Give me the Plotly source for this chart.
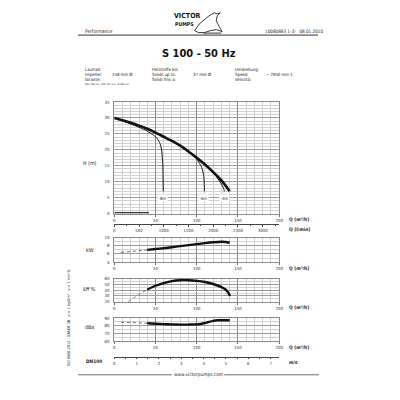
import plotly.graph_objects as go

W, HGT = 400, 400
def px(x): return x / W
def py(y): return 1 - y / HGT

# ---------------- data ----------------
q_head = [0, 10, 20, 30, 40, 50, 60, 70, 80, 90, 100, 110, 120, 130, 140]
head = [30, 29.3, 28.5, 27.6, 26.6, 25.4, 24.1, 22.8, 21.3, 19.5, 17.5, 15.4, 13.0, 10.4, 7.0]

q_b8 = [0, 10, 20, 30, 40, 48, 52, 55, 57, 58, 58.7, 59.1, 59.3, 59.4]
h_b8 = [30, 29.1, 28.1, 27.1, 25.9, 24.5, 23.6, 22.3, 20.6, 18.5, 16, 13, 10, 7]
q_b6 = [90, 95, 100, 103, 105.5, 107.3, 108.3, 108.9, 109.2, 109.3]
h_b6 = [19.5, 18.4, 17.1, 16.0, 14.8, 13.4, 12.0, 10.5, 8.7, 7]
q_b4 = [110, 115, 120, 125, 128.5, 131, 132.6, 133.5]
h_b4 = [15.4, 14.2, 12.8, 11.2, 9.9, 8.8, 7.9, 7.0]
q_npsh = [0, 42]
npsh = [0.25, 0.25]
branch_labels = ["-8m", "-6m", "-4m"]
branch_label_q = [59, 108.5, 134]

q_kw = [8, 20, 30, 40, 50, 60, 70, 80, 90, 100, 110, 120, 130, 135, 140]
kw = [6.4, 6.6, 6.8, 7.0, 7.2, 7.4, 7.65, 7.9, 8.15, 8.4, 8.65, 8.85, 8.97, 8.92, 8.72]

q_eff = [17, 25, 30, 40, 50, 60, 70, 80, 90, 100, 110, 120, 130, 135, 138, 140.5]
eff = [20, 28, 32.5, 41, 47.5, 52, 55.5, 57, 57, 56, 54, 50.5, 45, 41, 36, 30]

q_db = [8, 20, 30, 40, 50, 60, 70, 80, 90, 100, 105, 110, 115, 120, 125, 130, 140]
dba = [84.5, 84.2, 83.7, 83.2, 82.6, 82.1, 81.7, 81.5, 81.5, 81.7, 82.3, 83.5, 85, 86.3, 87, 87.1, 87]

q_ticks = [0, 50, 100, 150, 200]
lmin_ticks = [0, 500, 1000, 1500, 2000, 2500, 3000]
v_ticks = [0, 1, 2, 3, 4, 5, 6, 7]
thin_limit = 40  # dotted part of the auxiliary curves

FONT = "DejaVu Sans Condensed, Roboto, sans-serif"
INK = "#222"

fig = go.Figure()

def add(x, y, xa, ya, width, dash="solid", color="#111"):
    fig.add_trace(go.Scatter(x=x, y=y, xaxis=xa, yaxis=ya, mode="lines",
                             line=dict(color=color, width=width, dash=dash, shape="spline", smoothing=0.6),
                             hoverinfo="skip"))

# H plot
add(q_b8, h_b8, "x", "y", 1.0)
add(q_b6, h_b6, "x", "y", 1.0)
add(q_b4, h_b4, "x", "y", 1.0)
add(q_head, head, "x", "y", 2.6)
add(q_npsh, npsh, "x", "y", 1.4, color="#333")

def split(q, v):
    a = [(a_, b_) for a_, b_ in zip(q, v) if a_ <= thin_limit]
    b = [(a_, b_) for a_, b_ in zip(q, v) if a_ >= thin_limit]
    return [p[0] for p in a], [p[1] for p in a], [p[0] for p in b], [p[1] for p in b]

for q, v, xa, ya in [(q_kw, kw, "x2", "y2"), (q_eff, eff, "x3", "y3"), (q_db, dba, "x4", "y4")]:
    tq, tv, kq, kv = split(q, v)
    add(tq, tv, xa, ya, 0.8, dash="dot", color="#444")
    add(kq, kv, xa, ya, 2.4)

tickfont = dict(family=FONT, size=4.3, color="#333")
XD = [px(114.7), px(281.7)]

def xaxis(anchor, major="#8a8a8a"):
    return dict(domain=XD, range=[0, 200], anchor=anchor, tickvals=q_ticks,
                showgrid=True, gridcolor=major, gridwidth=0.8,
                minor=dict(dtick=10, showgrid=True, gridcolor="#cfcfcf", gridwidth=0.6),
                showline=True, mirror=True, linecolor="#8a8a8a", linewidth=0.8,
                ticks="outside", ticklen=2, tickcolor="#666", tickwidth=0.6,
                tickfont=tickfont, zeroline=False, fixedrange=True)

def yaxis(anchor, dom, rng, dtick, mdtick):
    return dict(domain=dom, range=rng, anchor=anchor, dtick=dtick,
                showgrid=True, gridcolor="#9a9a9a", gridwidth=0.7,
                minor=dict(dtick=mdtick, showgrid=True, gridcolor="#d2d2d2", gridwidth=0.5),
                showline=True, mirror=True, linecolor="#8a8a8a", linewidth=0.8,
                ticks="", ticklabelstandoff=3, tickfont=tickfont, zeroline=False, fixedrange=True)

fig.update_layout(
    width=400, height=400, margin=dict(l=0, r=0, t=0, b=0),
    paper_bgcolor="white", plot_bgcolor="white", showlegend=False,
    xaxis=xaxis("y"),
    yaxis=yaxis("x", [py(214.3), py(101.3)], [0, 35], 5, 1),
    xaxis2=xaxis("y2"),
    yaxis2=yaxis("x2", [py(263.5), py(238.5)], [4, 10], 2, 1),
    xaxis3=xaxis("y3"),
    yaxis3=yaxis("x3", [py(303.5), py(280)], [20, 60], 10, 5),
    xaxis4=xaxis("y4"),
    yaxis4=yaxis("x4", [py(343.5), py(320)], [60, 90], 10, 5),
    xaxis5=dict(overlaying="x", anchor="free", position=py(224.5), side="bottom",
                range=[0, 200 * 1000 / 60], tickvals=lmin_ticks, showgrid=False,
                showline=True, linecolor="#444", linewidth=0.8,
                ticks="outside", ticklen=2, tickcolor="#444", tickwidth=0.6,
                minor=dict(dtick=250, ticks="outside", ticklen=1.5, tickcolor="#444", showgrid=False),
                tickfont=tickfont, zeroline=False, fixedrange=True),
    xaxis6=dict(overlaying="x4", anchor="free", position=py(359), side="bottom",
                range=[0, 7.38], tickvals=v_ticks, showgrid=False,
                showline=True, linecolor="#444", linewidth=0.8,
                ticks="outside", ticklen=2, tickcolor="#444", tickwidth=0.6,
                minor=dict(dtick=0.5, ticks="outside", ticklen=1.5, tickcolor="#444", showgrid=False),
                tickfont=tickfont, zeroline=False, fixedrange=True),
)
# dummy traces so overlay axes render
fig.add_trace(go.Scatter(x=[0], y=[0], xaxis="x5", yaxis="y", mode="markers",
                         marker=dict(size=0.1, opacity=0), hoverinfo="skip"))
fig.add_trace(go.Scatter(x=[0], y=[60], xaxis="x6", yaxis="y4", mode="markers",
                         marker=dict(size=0.1, opacity=0), hoverinfo="skip"))

ann = []
def txt(x, y, s, size=4.5, xanchor="left", bold=False, angle=0, color=INK, bg=None):
    d = dict(x=px(x), y=py(y), xref="paper", yref="paper", text=(f"<b>{s}</b>" if bold else s),
             showarrow=False, xanchor=xanchor, yanchor="middle", textangle=angle,
             font=dict(family=FONT, size=size, color=color))
    if bg:
        d.update(bgcolor=bg, borderpad=0)
    ann.append(d)

# branch labels on the H=5 line
for lab, q in zip(branch_labels, branch_label_q):
    ann.append(dict(x=q, y=5, xref="x", yref="y", text=lab, showarrow=False,
                    font=dict(family=FONT, size=4.3, color="#333"), bgcolor="white", borderpad=0.5))

# header
txt(83, 30, "Performance", 4.8)
txt(265, 30, "10080883 1-2/&nbsp;&nbsp; 08.01.2010", 4.6)
txt(188, 14.5, "VICTOR", 7, "center", True, color="#111")
txt(186, 22, "PUMPS", 5.2, "center", True, color="#111")
txt(201, 52, "S 100 - 50 Hz", 11, "center", True, color="#111")

# info block
txt(83, 68.5, "Laufrad:", 4.3)
txt(83, 73.7, "Impeller:", 4.3)
txt(110, 73.7, "158 mm Ø", 4.3)
txt(83, 78.8, "Girante:", 4.3)
txt(83, 83.5, "MAX 158 mm - MIN 120 mm - Ø 158 mm", 2.4)
txt(151, 68.5, "Feststoffe bis:", 4.3)
txt(151, 73.7, "Solids up to:", 4.3)
txt(192, 73.7, "37 mm Ø", 4.3)
txt(151, 78.8, "Solidi fino a:", 4.3)
txt(235, 68.5, "Umdrehung:", 4.3)
txt(235, 73.7, "Speed:", 4.3)
txt(266, 73.7, "~ 2950 min-1", 4.3)
txt(235, 78.8, "Velocità:", 4.3)

# axis titles
txt(90, 163, "H (m)", 5.3, "center")
txt(90, 251, "kW", 5.3, "center")
txt(90, 291, "Eff %", 5.3, "center")
txt(90, 329, "dBa", 5.3, "center")
txt(94, 364.5, "DN100", 4.8, "center", True)
for yy in [220.5, 269.5, 309.5, 350]:
    txt(290, yy, "Q (m³/h)", 4.8, bold=True)
txt(290, 230.5, "Q (l/min)", 4.8, bold=True)
txt(290, 365.5, "m/s", 4.8, bold=True)
txt(68, 320, "ISO 9906:2012 - GRADE 3B&nbsp;&nbsp; ρ = 1 kg/dm³&nbsp;&nbsp; ν = 1 mm²/s", 3.8, "center", angle=-90)
txt(200, 377.5, "www.victorpumps.com", 4.8, "center")

shapes = [
    dict(type="line", xref="paper", yref="paper", x0=px(78), x1=px(321), y0=py(33.5), y1=py(33.5),
         line=dict(color="#333", width=1)),
    dict(type="line", xref="paper", yref="paper", x0=px(78), x1=px(173), y0=py(377.5), y1=py(377.5),
         line=dict(color="#444", width=0.8)),
    dict(type="line", xref="paper", yref="paper", x0=px(226), x1=px(322), y0=py(377.5), y1=py(377.5),
         line=dict(color="#444", width=0.8)),
]
# crude bird logo outline
bird = [(196, 29), (201, 22), (207, 17), (212, 13), (216, 11), (219, 12), (222, 11), (219, 14),
        (218, 19), (221, 25), (224, 30), (218, 28), (212, 29), (206, 31), (200, 31), (196, 29)]
path = "M " + " L ".join(f"{px(a):.4f},{py(b):.4f}" for a, b in bird) + " Z"
shapes.append(dict(type="path", xref="paper", yref="paper", path=path,
                   line=dict(color="#222", width=0.9), fillcolor="rgba(0,0,0,0)"))
shapes.append(dict(type="line", xref="paper", yref="paper", x0=px(205), x1=px(223), y0=py(31.5), y1=py(31.5),
                   line=dict(color="#222", width=0.9)))

fig.update_layout(annotations=ann, shapes=shapes)
fig.write_html("out.html")
